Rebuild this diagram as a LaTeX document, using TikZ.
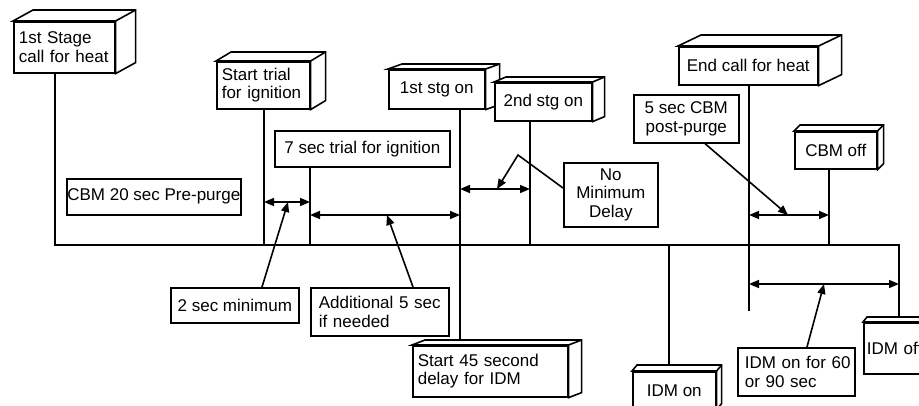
\documentclass[tikz,border=0pt]{standalone}
\usepackage{fontspec}
\setmainfont{Liberation Sans}
\usetikzlibrary{arrows.meta,calc,backgrounds}
\newcommand{\mkcube}[3]{%
  \draw[cubeln] (#1.north west) -- ++(#2,#3) -- ($(#1.north east)+(#2,#3)$) -- ($(#1.south east)+(#2,#3)$) -- (#1.south east) -- (#1.north east) -- cycle;
  \draw[cubeln] (#1.north east) -- ++(#2,#3);}
\tikzset{
  lw/.style={line width=1.6pt},
  bx/.style={draw, fill=white, line width=1.6pt, anchor=north west, inner xsep=5pt, inner ysep=0pt,
    font=\fontsize{17}{18.5}\selectfont},
  cbx/.style={bx, inner xsep=0pt, align=center},
  cubeln/.style={line width=1.6pt, fill=white, line join=miter},
  dbl/.style={line width=1.6pt, {Triangle[length=10pt,width=8pt]}-{Triangle[length=10pt,width=8pt]}},
  lead/.style={line width=1.6pt, -{Triangle[length=10pt,width=8pt]}},
}
\begin{document}
\begin{tikzpicture}[x=1pt,y=-1pt]
\useasboundingbox (0,0) rectangle (919,405);
\clip (0,0) rectangle (919,405);
% 3D boxes
\node[bx, text width=91pt, minimum height=51pt, align=left] (s1) at (13,21) {\mbox{1st Stage}\\\mbox{call for heat}};
\mkcube{s1}{20}{-11}
\node[bx, text width=83pt, minimum height=47pt, align=left] (trial) at (216,61) {\mbox{Start trial}\\\mbox{for ignition}};
\mkcube{trial}{15}{-9}
\node[cbx, minimum width=96pt, minimum height=39pt] (stg1) at (388,69) {1st stg on};
\mkcube{stg1}{14}{-5}
\node[cbx, minimum width=97pt, minimum height=38pt] (stg2) at (494,82) {2nd stg on};
\mkcube{stg2}{12}{-5}
\node[cbx, minimum width=139pt, minimum height=38pt] (end) at (678,46) {End call for heat};
\mkcube{end}{23}{-11}
\node[cbx, minimum width=82pt, minimum height=37pt] (cbmoff) at (794,131) {CBM off};
\mkcube{cbmoff}{6}{-6}
\node[bx, text width=145pt, minimum height=51pt, align=left] (s45) at (412,345) {\mbox{Start 45 second}\\\mbox{delay for IDM}};
\mkcube{s45}{13}{-5}
\node[cbx, minimum width=83pt, minimum height=37pt] (idmon) at (632,371) {IDM on};
\mkcube{idmon}{5}{-6}
\node[bx, inner xsep=3pt, text width=84pt, minimum height=51pt, align=left] (idmoff) at (863,322) {\mbox{IDM off}};
\mkcube{idmoff}{4}{-5}
% plain boxes
\node[cbx, minimum width=175pt, minimum height=36pt] (ptrial) at (274,130) {7 sec trial for ignition};
\node[cbx, minimum width=174pt, minimum height=36pt] (pre) at (66,178) {CBM 20 sec Pre-purge};
\node[cbx, minimum width=94pt, minimum height=64pt] (nomin) at (563,162) {No\\Minimum\\Delay};
\node[cbx, minimum width=105pt, minimum height=48pt] (post) at (633,94) {5 sec CBM\\post-purge};
\node[cbx, minimum width=128pt, minimum height=35pt] (two) at (170,287) {2 sec minimum};
\node[bx, inner xsep=8pt, text width=122pt, minimum height=48pt, align=left] (add) at (310,287) {\mbox{Additional 5 sec}\\\mbox{if needed}};
\node[bx, inner xsep=7pt, text width=103pt, minimum height=48pt, align=left] (idm60) at (737,347) {\mbox{IDM on for 60}\\\mbox{or 90 sec}};
% junction coordinates
\coordinate (v1) at (55,245);
\coordinate (vR) at (899,245);
\coordinate (v2) at (264,245);
\coordinate (v3) at (310,245);
\coordinate (v4) at (460,245);
\coordinate (v5) at (530,245);
\coordinate (v6) at (749,311);
\coordinate (v7) at (829,245);
\coordinate (v8) at (669,245);
\begin{pgfonlayer}{background}
\draw[lw] (s1 -| v1) -- (v1) -- (vR) -- (idmoff -| vR);
\draw[lw] (trial -| v2) -- (v2);
\draw[lw] (ptrial -| v3) -- (v3);
\draw[lw] (stg1 -| v4) -- (s45 -| v4);
\draw[lw] (stg2 -| v5) -- (v5);
\draw[lw] (end -| v6) -- (v6);
\draw[lw] (cbmoff -| v7) -- (v7);
\draw[lw] (v8) -- (idmon -| v8);
\end{pgfonlayer}
% double arrows
\coordinate (a1) at (264,202); \coordinate (a2) at (310,202);
\coordinate (b1) at (310,215); \coordinate (b2) at (460,215);
\coordinate (c1) at (460,189); \coordinate (c2) at (530,189);
\coordinate (d1) at (749,215); \coordinate (d2) at (829,215);
\coordinate (e1) at (749,284); \coordinate (e2) at (899,284);
\draw[dbl] (a1) -- (a2);
\draw[dbl] (b1) -- (b2);
\draw[dbl] (c1) -- (c2);
\draw[dbl] (d1) -- (d2);
\draw[dbl] (e1) -- (e2);
% leaders
\coordinate (t2) at (288,202);
\coordinate (tadd) at (387,215);
\coordinate (knee) at (518,155);
\coordinate (tnm) at (497,189);
\coordinate (tpost) at (788,215);
\coordinate (t60) at (824,284);
\draw[lead] ($(two.north west)+(92,0)$) -- (t2);
\draw[lead] ($(add.north west)+(103,0)$) -- (tadd);
\draw[lead] ($(nomin.north west)+(0,26)$) -- (knee) -- (tnm);
\draw[lead] ($(post.south west)+(72,0)$) -- (tpost);
\draw[lead] ($(idm60.north west)+(70,0)$) -- (t60);
\end{tikzpicture}
\end{document}
